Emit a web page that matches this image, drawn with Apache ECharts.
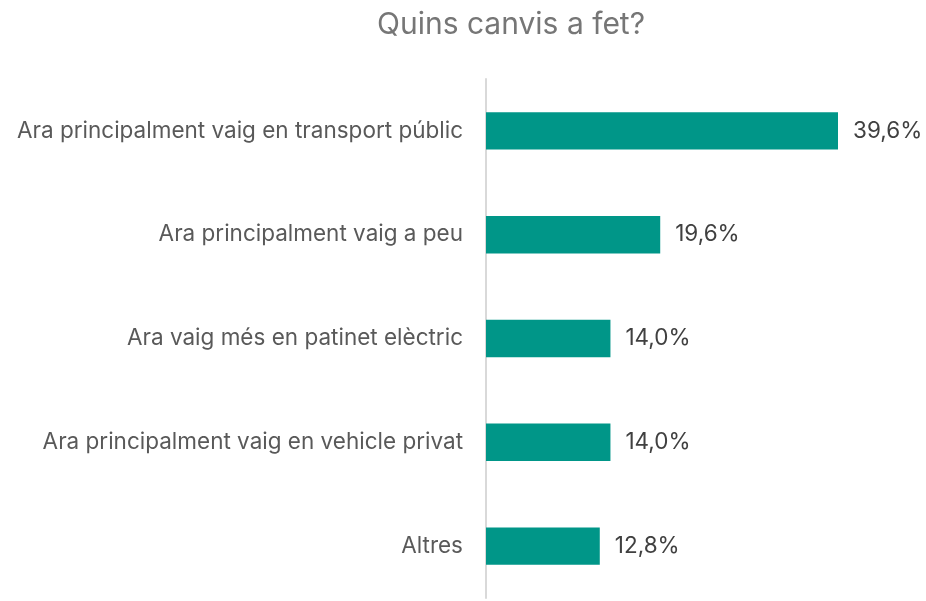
<!DOCTYPE html>
<html>
<head>
<meta charset="utf-8">
<script src="https://cdn.jsdelivr.net/npm/echarts@6/dist/echarts.min.js"></script>
<style>
  html, body { margin: 0; padding: 0; background: #fff; }
  #chart { width: 926px; height: 601px; }
</style>
</head>
<body>
<div id="chart"></div>
<script>
// categories, top to bottom
const categories = [
  'Ara principalment vaig en transport públic',
  'Ara principalment vaig a peu',
  'Ara vaig més en patinet elèctric',
  'Ara principalment vaig en vehicle privat',
  'Altres'
];
const values = [39.6, 19.6, 14.0, 14.0, 12.8];

const chart = echarts.init(document.getElementById('chart'));

const option = {
  backgroundColor: '#fff',
  title: {
    text: 'Quins canvis a fet?',
    left: 506,
    textAlign: 'center',
    top: 5,
    textStyle: {
      fontFamily: 'Inter',
      fontSize: 30,
      fontWeight: 'normal',
      color: '#767676'
    }
  },
  grid: { left: 486, right: 40, top: 79, bottom: 3 },
  xAxis: {
    type: 'value',
    min: 0,
    max: 45,
    show: false
  },
  yAxis: {
    type: 'category',
    inverse: true,
    data: categories,
    axisLine: { show: true, lineStyle: { color: '#d9d9d9', width: 2 } },
    axisTick: { show: false },
    axisLabel: {
      margin: 23,
      fontFamily: 'Inter',
      fontSize: 22.5,
      color: '#595959'
    }
  },
  series: [{
    type: 'bar',
    data: values,
    barWidth: '36%',
    itemStyle: { color: '#009688' },
    label: {
      show: true,
      position: 'right',
      distance: 15,
      fontFamily: 'Inter',
      fontSize: 22.5,
      color: '#404040',
      formatter: p => p.value.toFixed(1).replace('.', ',') + '%'
    }
  }]
};

chart.setOption(option);
window.addEventListener('resize', () => chart.resize());
</script>
</body>
</html>
